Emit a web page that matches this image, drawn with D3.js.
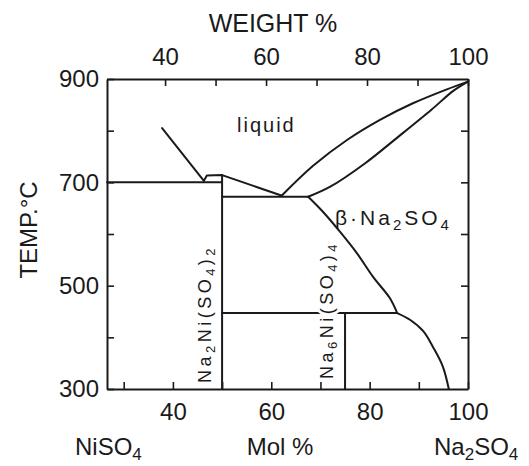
<!DOCTYPE html>
<html>
<head>
<meta charset="utf-8">
<script src="https://cdn.jsdelivr.net/npm/d3@7"></script>
<style>
  html, body { margin: 0; padding: 0; background: #fff; }
  svg { display: block; }
  text { font-family: "Liberation Sans", Arial, sans-serif; fill: #1a1a1a; }
</style>
</head>
<body>
<svg id="chart" width="529" height="466"></svg>
<script>
// Axis ticks and labels
const molTicks = [30, 40, 50, 60, 70, 80, 90, 100];
const molLabels = [40, 60, 80, 100];
const weightTicks = [40, 50, 60, 70, 80, 90, 100];
const weightLabels = [40, 60, 80, 100];
const tempTicks = [300, 400, 500, 600, 700, 800, 900];
const tempLabels = [300, 500, 700, 900];

// Phase boundaries, [mol % Na2SO4, temperature °C]
const liquidusNiSO4 = [[37.8, 805], [46.3, 703]];
const liquidusCompound = [[46.3, 703], [46.9, 713], [50.0, 714], [62.2, 674]];
const liquidusNa2SO4 = [[62.2, 675], [68.5, 732], [75.4, 782], [82.1, 821], [88.8, 853], [95.7, 880], [100, 895]];
const solidusBeta = [[67.5, 672], [71.9, 691], [79.1, 737], [85.8, 788], [92.5, 840], [97.0, 877], [100, 895]];
const solvusBetaUpper = [[67.5, 672], [70.5, 643], [74.0, 604], [77.4, 563], [80.7, 517], [84.1, 476], [85.6, 447]];
const solvusBetaLower = [[85.6, 447], [88.2, 434], [90.9, 412], [92.9, 381], [94.9, 343], [96.1, 300]];

// Invariant horizontals: [mol start, mol end, temperature]
const isotherms = [[26.6, 50, 700], [50, 67.5, 672], [50, 85.6, 447]];
// Compounds: [mol %, top temperature]
const compounds = [[50, 714], [75, 447]];

const svg = d3.select("#chart");
const plotLeft = 107, plotRight = 468, plotTop = 79, plotBottom = 389;

const x = d3.scaleLinear().domain([26.6, 100]).range([plotLeft, plotRight]);
const xw = d3.scaleLinear().domain([28.5, 100]).range([plotLeft, plotRight]);
const y = d3.scaleLinear().domain([300, 900]).range([plotBottom, plotTop]);

const ink = "#1a1a1a";

// Axes with inward ticks
const fmt = list => d => list.includes(d) ? d : "";

const gB = svg.append("g").attr("transform", `translate(0,${plotBottom})`)
  .call(d3.axisBottom(x).tickValues(molTicks).tickFormat(fmt(molLabels))
    .tickSizeInner(-7).tickSizeOuter(0).tickPadding(14));
const gT = svg.append("g").attr("transform", `translate(0,${plotTop})`)
  .call(d3.axisTop(xw).tickValues(weightTicks).tickFormat(fmt(weightLabels))
    .tickSizeInner(-7).tickSizeOuter(0).tickPadding(14));
const gL = svg.append("g").attr("transform", `translate(${plotLeft},0)`)
  .call(d3.axisLeft(y).tickValues(tempTicks).tickFormat(fmt(tempLabels))
    .tickSizeInner(-7).tickSizeOuter(0).tickPadding(8));
const gR = svg.append("g").attr("transform", `translate(${plotRight},0)`)
  .call(d3.axisRight(y).tickValues(tempTicks.filter(t => t > 300 && t < 900)).tickFormat("")
    .tickSizeInner(-7).tickSizeOuter(0));

[gB, gT, gL, gR].forEach(g => {
  g.select(".domain").attr("stroke", ink).attr("stroke-width", 2);
  g.selectAll(".tick line").attr("stroke", ink).attr("stroke-width", 1.6);
  g.selectAll(".tick text").attr("fill", ink)
    .style("font-family", "'Liberation Sans', Arial, sans-serif")
    .style("font-size", "24px");
});

// Phase boundary curves
const line = d3.line().x(d => x(d[0])).y(d => y(d[1]));
const smooth = d3.line().x(d => x(d[0])).y(d => y(d[1])).curve(d3.curveCatmullRom.alpha(0.5));

const plot = svg.append("g").attr("fill", "none").attr("stroke", ink)
  .attr("stroke-width", 2).attr("stroke-linejoin", "round").attr("stroke-linecap", "round");

plot.append("path").attr("d", line(liquidusNiSO4));
plot.append("path").attr("d", line(liquidusCompound));
plot.append("path").attr("d", smooth(liquidusNa2SO4));
plot.append("path").attr("d", smooth(solidusBeta));
plot.append("path").attr("d", smooth(solvusBetaUpper));
plot.append("path").attr("d", smooth(solvusBetaLower));

plot.selectAll("line.iso").data(isotherms).join("line").attr("class", "iso")
  .attr("x1", d => x(d[0])).attr("x2", d => x(d[1]))
  .attr("y1", d => y(d[2])).attr("y2", d => y(d[2]));

plot.selectAll("line.cmp").data(compounds).join("line").attr("class", "cmp")
  .attr("x1", d => x(d[0])).attr("x2", d => x(d[0]))
  .attr("y1", y(300)).attr("y2", d => y(d[1]));

// Field and compound labels
svg.append("text").attr("x", 237).attr("y", 132)
  .style("font-size", "20px").style("letter-spacing", "2px").text("liquid");

const beta = svg.append("text").attr("x", 335).attr("y", 225)
  .style("font-size", "21px").style("letter-spacing", "3px");
beta.append("tspan").text("β·Na");
beta.append("tspan").attr("dy", 5).style("font-size", "15px").text("2");
beta.append("tspan").attr("dy", -5).text("SO");
beta.append("tspan").attr("dy", 5).style("font-size", "15px").text("4");

function compoundLabel(cx, cy, na, ni) {
  const t = svg.append("text")
    .attr("transform", `translate(${cx},${cy}) rotate(-90)`)
    .attr("text-anchor", "middle").attr("dy", "0.35em")
    .style("font-size", "18px").style("letter-spacing", "3.5px")
    .attr("stroke", "#fff").attr("stroke-width", 6).attr("paint-order", "stroke");
  t.append("tspan").text("Na");
  t.append("tspan").attr("dy", 4).style("font-size", "13px").text(na);
  t.append("tspan").attr("dy", -4).text("Ni(SO");
  t.append("tspan").attr("dy", 4).style("font-size", "13px").text("4");
  t.append("tspan").attr("dy", -4).text(")");
  t.append("tspan").attr("dy", 4).style("font-size", "13px").text(ni);
}
compoundLabel(205, 314, "2", "2");
compoundLabel(327, 310, "6", "4");

// Axis titles
svg.append("text").attr("x", 273).attr("y", 32).attr("text-anchor", "middle")
  .style("font-size", "25px").text("WEIGHT %");

svg.append("text").attr("transform", "translate(37,230) rotate(-90)")
  .attr("text-anchor", "middle").style("font-size", "24px").text("TEMP.°C");

svg.append("text").attr("x", 280).attr("y", 455).attr("text-anchor", "middle")
  .style("font-size", "24px").text("Mol %");

const ni = svg.append("text").attr("x", 75).attr("y", 455).style("font-size", "24px");
ni.append("tspan").text("NiSO");
ni.append("tspan").attr("dy", 5).style("font-size", "17px").text("4");

const na = svg.append("text").attr("x", 434).attr("y", 455).style("font-size", "24px");
na.append("tspan").text("Na");
na.append("tspan").attr("dy", 5).style("font-size", "17px").text("2");
na.append("tspan").attr("dy", -5).text("SO");
na.append("tspan").attr("dy", 5).style("font-size", "17px").text("4");
</script>
</body>
</html>
